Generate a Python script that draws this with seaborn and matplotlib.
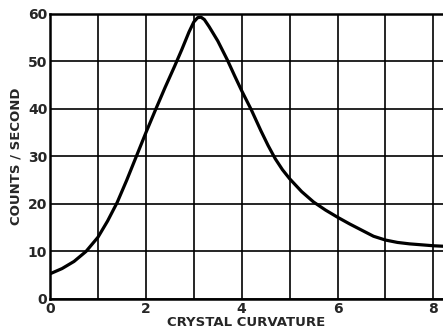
import matplotlib
matplotlib.use("Agg")
import matplotlib.pyplot as plt
import seaborn as sns
import pandas as pd
from matplotlib.ticker import MultipleLocator

curvature = [0.0, 0.25, 0.5, 0.75, 1.0, 1.2, 1.4, 1.6, 1.8, 2.0, 2.2, 2.4, 2.6, 2.75,
             2.9, 3.0, 3.08, 3.15, 3.22, 3.32, 3.5, 3.7, 3.85, 4.0, 4.2, 4.4, 4.55, 4.7,
             4.85, 5.0, 5.25, 5.5, 5.75, 6.0, 6.25, 6.5, 6.75, 7.0, 7.25, 7.5, 8.0, 8.2]
counts = [5.3, 6.4, 7.9, 10.0, 13.0, 16.4, 20.3, 25.0, 30.0, 35.0, 39.8, 44.5, 49.0, 52.5,
          56.2, 58.3, 59.2, 59.3, 58.8, 57.3, 54.3, 50.3, 47.0, 43.8, 39.8, 35.4, 32.3, 29.5,
          27.2, 25.3, 22.6, 20.4, 18.7, 17.2, 15.8, 14.5, 13.2, 12.4, 11.9, 11.6, 11.2, 11.1]

x_ticks = [0, 2, 4, 6, 8]
y_ticks = [0, 10, 20, 30, 40, 50, 60]

df = pd.DataFrame({"curvature": curvature, "counts": counts})

sns.set_theme(style="white")
plt.rcParams['font.family'] = ['DejaVu Sans']

fig = plt.figure(figsize=(4.43, 3.30), dpi=100)
ax = fig.add_axes([0.113, 0.094, 0.887, 0.864])

sns.lineplot(data=df, x="curvature", y="counts", ax=ax, color="black",
             linewidth=2.3, zorder=3)

ax.set_xlim(0, 8.2)
ax.set_ylim(0, 60)
ax.xaxis.set_major_locator(MultipleLocator(2))
ax.xaxis.set_minor_locator(MultipleLocator(1))
ax.set_xticks(x_ticks)
ax.set_yticks(y_ticks)
ax.grid(True, which="both", axis="x", color="black", linewidth=1.2)
ax.grid(True, which="major", axis="y", color="black", linewidth=1.2)
ax.tick_params(which="both", length=0, pad=2)
for lab in ax.get_xticklabels() + ax.get_yticklabels():
    lab.set_fontweight("bold")
    lab.set_fontsize(10)

for s in ["left", "bottom", "top"]:
    ax.spines[s].set_visible(True)
    ax.spines[s].set_color("black")
    ax.spines[s].set_linewidth(1.8)
ax.spines["right"].set_visible(False)

ax.set_xlabel("CRYSTAL CURVATURE", fontsize=9.5, fontweight="bold", labelpad=0)
ax.set_ylabel("COUNTS / SECOND", fontsize=9.5, fontweight="bold", labelpad=4)

fig.savefig("out.png", dpi=100)
